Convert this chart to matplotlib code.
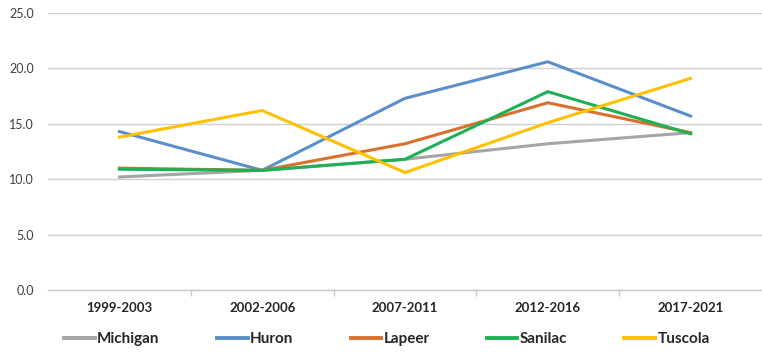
import matplotlib
matplotlib.use("Agg")
import matplotlib.pyplot as plt
import numpy as np

categories = ["1999-2003", "2002-2006", "2007-2011", "2012-2016", "2017-2021"]
series_names = ["Michigan", "Huron", "Lapeer", "Sanilac", "Tuscola"]
michigan = [10.2, 10.8, 11.8, 13.2, 14.2]
huron = [14.3, 10.8, 17.3, 20.6, 15.7]
lapeer = [11.0, 10.8, 13.2, 16.9, 14.2]
sanilac = [10.9, 10.8, 11.8, 17.9, 14.1]
tuscola = [13.8, 16.2, 10.6, 15.1, 19.1]
yticks = [0, 5, 10, 15, 20, 25]

colors = ["#A5A5A5", "#5B8FCB", "#D9702E", "#1DB054", "#FFC000"]
values = [michigan, huron, lapeer, sanilac, tuscola]

plt.rcParams['font.family'] = ['Lato', 'DejaVu Sans']

fig = plt.figure(figsize=(7.62, 3.56), dpi=100)
ax = fig.add_axes([48/762, 1-290/356, 1-48/762, (290-13)/356])

x = np.arange(len(categories))
lines = []
for name, vals, c in zip(series_names, values, colors):
    l, = ax.plot(x, vals, color=c, lw=2.2, label=name, solid_joinstyle='miter')
    lines.append(l)

ax.set_xlim(-0.5, len(categories) - 0.5)
ax.set_ylim(0, 25)
ax.set_yticks(yticks)
ax.set_yticklabels([f"{v:.1f}" for v in yticks], color="#404040", fontsize=9)
ax.yaxis.grid(True, color="#D0D0D0", lw=1)
ax.set_axisbelow(True)
ax.tick_params(axis='y', length=0, pad=10)

ax.set_xticks(x)
ax.set_xticklabels(categories, fontsize=9.5, fontweight='bold', color="#262626")
ax.set_xticks(np.arange(0.5, len(categories) - 0.5, 1), minor=True)
ax.tick_params(axis='x', which='major', length=0, pad=9)
ax.tick_params(axis='x', which='minor', length=4, color="#C8C8C8", width=1)

for s in ["top", "right", "left"]:
    ax.spines[s].set_visible(False)
ax.spines["bottom"].set_color("#C8C8C8")
ax.spines["bottom"].set_linewidth(1)

leg = fig.legend(handles=lines, labels=series_names, loc='center',
                 bbox_to_anchor=(387/762, 1-339/356), ncol=5, frameon=False,
                 prop={'weight': 'bold', 'size': 11}, handlelength=2.0,
                 handletextpad=0.15, columnspacing=3.75)
for t in leg.get_texts():
    t.set_color("#262626")
for h in leg.legend_handles:
    h.set_linewidth(2.8)

fig.savefig("out.png", dpi=100)
